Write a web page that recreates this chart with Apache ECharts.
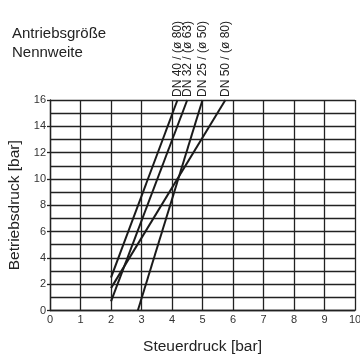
<!DOCTYPE html>
<html>
<head>
<meta charset="utf-8">
<script src="https://cdn.jsdelivr.net/npm/echarts@6/dist/echarts.min.js"></script>
<style>html,body{margin:0;padding:0;background:#fff}#c{width:360px;height:357px}</style>
</head>
<body>
<div id="c"></div>
<script>
const lineNames = ['DN 40 / (ø 80)', 'DN 32 / (ø 63)', 'DN 25 / (ø 50)', 'DN 50 / (ø 80)'];
const startX = [2, 2, 2.88, 2];
const startY = [2.5, 0.7, 0, 1.7];
const endX = [4.18, 4.5, 5.0, 5.75];
const endY = [16, 16, 16, 16];
const xTicks = [0, 10, 1];
const yTicks = [0, 16, 2];

const FONT = 'Liberation Sans, Arial, sans-serif';
const series = lineNames.map((n, i) => ({
  type: 'line',
  name: n,
  data: [
    [startX[i], startY[i]],
    {value: [endX[i], endY[i]], label: {
      show: true, formatter: n, rotate: 90, position: 'top', distance: 3,
      align: 'left', verticalAlign: 'middle', fontSize: 12, color: '#222', fontFamily: FONT
    }}
  ],
  symbol: 'circle', symbolSize: 0, showSymbol: true,
  itemStyle: {color: '#1a1a1a'},
  lineStyle: {color: '#1a1a1a', width: 2},
  silent: true, animation: false, z: 5
}));

const chart = echarts.init(document.getElementById('c'));
chart.setOption({
  animation: false,
  title: {
    text: 'Antriebsgröße\nNennweite', left: 7, top: 19,
    textStyle: {fontSize: 15, fontWeight: 'normal', color: '#222', lineHeight: 19, fontFamily: FONT}
  },
  grid: {left: 50, right: 5, top: 100, bottom: 46.5, outerBoundsMode: 'none', containLabel: false},
  xAxis: {
    type: 'value', min: xTicks[0], max: xTicks[1], interval: xTicks[2],
    name: 'Steuerdruck [bar]', nameLocation: 'middle', nameGap: 28,
    nameTextStyle: {fontSize: 15.5, color: '#222', fontFamily: FONT},
    axisLine: {lineStyle: {color: '#222', width: 1.3}},
    axisTick: {show: false},
    axisLabel: {fontSize: 11, color: '#333', margin: 4, fontFamily: FONT, hideOverlap: false},
    splitLine: {show: true, lineStyle: {color: '#222', width: 1.3}}
  },
  yAxis: {
    type: 'value', min: yTicks[0], max: yTicks[1], interval: yTicks[2],
    name: 'Betriebsdruck [bar]', nameLocation: 'middle', nameGap: 26,
    nameTextStyle: {fontSize: 15.5, color: '#222', fontFamily: FONT},
    axisLine: {show: true, lineStyle: {color: '#222', width: 1.3}},
    axisTick: {show: true, length: 3, lineStyle: {color: '#222', width: 1.3}},
    axisLabel: {fontSize: 11, color: '#333', margin: 4, fontFamily: FONT},
    splitLine: {show: true, lineStyle: {color: '#222', width: 1.3}},
    minorTick: {show: false, splitNumber: 2},
    minorSplitLine: {show: true, lineStyle: {color: '#222', width: 1.3}}
  },
  series: series
});
</script>
</body>
</html>
